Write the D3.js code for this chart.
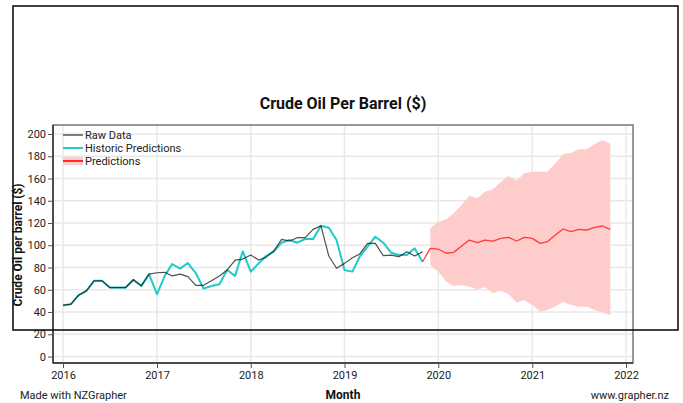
<!DOCTYPE html>
<html><head><meta charset="utf-8">
<script src="https://cdn.jsdelivr.net/npm/d3@7"></script>
<style>body{margin:0;background:#fff}svg{display:block;font-family:Roboto,"Liberation Sans",sans-serif}</style>
</head><body><svg id="c" width="683" height="403"></svg>
<script>
// Monthly series, starting January 2016
const rawStart = "2016-01";
const rawData = [46,47,55,59,68,68,62,62,62,69,63.5,74,75.3,75.7,72.4,74,71.8,64,64,68,72.4,77.7,86.7,87.6,91.2,86.7,89.1,95,105.3,103.8,106.8,106.8,114.3,117.6,90.3,79.3,83.7,88.8,92.1,101.7,101.7,90.6,91.2,89.7,94.2,90.3,94.2];
const histStart = "2016-01";
const historicPredictions = [46,47,55,59,68,68,62,62,62,69,63.5,74,56,73,83,79,84,75,61,63.4,65,77.7,72.5,94.5,76.3,83.7,90.3,94.2,102.3,104.7,102.3,105.6,105.6,117.6,115.8,104.7,77.7,76.3,89.7,98.7,107.7,102.3,93.3,91.2,91.2,97.2,85.2];
const predStart = "2019-11";
const predictions = [85.2,97.2,96.6,92.8,93.6,99.3,104.7,102.3,104.7,103.8,106.2,107.1,103.8,107.1,106.2,101.7,103.2,109.2,114.6,112.2,114.3,113.7,116.1,117.3,114.3];
const bandStart = "2019-12";
const bandUpper = [115.2,121.2,123.3,128.7,136.2,144.5,142.2,148.1,150.3,157.1,162.2,158,164.7,166.1,166.1,166.1,173.7,181.7,183.2,186.2,186.2,191,194.6,191];
const bandLower = [82.2,76.3,67.2,63.4,64.3,62.7,60.4,62.2,56.8,59.1,55.9,48.5,50.8,46.3,40.3,41.8,44.8,49.3,46.3,44.8,44.8,41.8,39.4,37.3];
const yTicks = [0,20,40,60,80,100,120,140,160,180,200];
const xTickYears = ["2016","2017","2018","2019","2020","2021","2022"];
const legendLabels = ["Raw Data","Historic Predictions","Predictions"];
const title = "Crude Oil Per Barrel ($)";
const yLabel = "Crude Oil per barrel ($)";
const xLabel = "Month";

const parseM = d3.timeParse("%Y-%m");
const parseY = d3.timeParse("%Y");
const toSeries = (start, vals) => vals.map((v,i)=>({d:d3.timeMonth.offset(parseM(start), i), v}));

const svg = d3.select("#c");
const L=53, R=633, T=125, B=363;
const x = d3.scaleTime().domain([parseY("2016"), parseY("2022")]).range([63, 626]);
const y = d3.scaleLinear().domain([0,200]).range([356.5,134]);

// gridlines
const g = svg.append("g");
g.selectAll(".gy").data(yTicks).join("line")
  .attr("x1",L).attr("x2",R).attr("y1",d=>y(d)).attr("y2",d=>y(d))
  .attr("stroke","#e8e8e8").attr("stroke-width",1.5);
g.selectAll(".gx").data(xTickYears).join("line")
  .attr("x1",d=>x(parseY(d))).attr("x2",d=>x(parseY(d))).attr("y1",T).attr("y2",B)
  .attr("stroke","#e8e8e8").attr("stroke-width",1.5);

// band
const bu = toSeries(bandStart, bandUpper), bl = toSeries(bandStart, bandLower);
const bandData = bu.map((p,i)=>({d:p.d, hi:p.v, lo:bl[i].v}));
svg.append("path").datum(bandData)
  .attr("d", d3.area().x(p=>x(p.d)).y0(p=>y(p.lo)).y1(p=>y(p.hi)))
  .attr("fill","#ffcccc");

const line = d3.line().x(p=>x(p.d)).y(p=>y(p.v));
svg.append("path").datum(toSeries(histStart, historicPredictions)).attr("d",line)
  .attr("fill","none").attr("stroke","#1fcaca").attr("stroke-width",2).attr("stroke-linejoin","round");
svg.append("path").datum(toSeries(rawStart, rawData)).attr("d",line)
  .attr("fill","none").attr("stroke","rgba(20,20,20,0.75)").attr("stroke-width",1.2).attr("stroke-linejoin","round");
svg.append("path").datum(toSeries(predStart, predictions)).attr("d",line)
  .attr("fill","none").attr("stroke","#ff3b3b").attr("stroke-width",1.3).attr("stroke-linejoin","round");

// frame
svg.append("rect").attr("x",L).attr("y",T).attr("width",R-L).attr("height",B-T)
  .attr("fill","none").attr("stroke","#777").attr("stroke-width",1.5);

// axes
const yAxis = svg.append("g").attr("transform",`translate(${L},0)`)
  .call(d3.axisLeft(y).tickValues(yTicks).tickSize(5).tickPadding(2));
yAxis.select(".domain").attr("d",`M0,${T}V${B}`).attr("stroke","#333").attr("stroke-width",1.5);
const xAxis = svg.append("g").attr("transform",`translate(0,${B})`)
  .call(d3.axisBottom(x).tickValues(xTickYears.map(parseY)).tickFormat(d3.timeFormat("%Y")).tickSize(5).tickPadding(3));
xAxis.select(".domain").attr("d",`M${L},0H${R}`).attr("stroke","#333").attr("stroke-width",1.5);
[yAxis,xAxis].forEach(a=>{
  a.selectAll(".tick line").attr("stroke","#555");
  a.selectAll("text").attr("font-size",11).attr("fill","#222").attr("font-family","Roboto, sans-serif");
});

// legend
const leg = svg.append("g").attr("transform","translate(63,135)");
const legColors = ["#555","#1fcaca","#ff2a2a"];
legendLabels.forEach((t,i)=>{
  const r = leg.append("g").attr("transform",`translate(0,${i*13})`);
  if(i===2) r.append("rect").attr("x",0).attr("y",-4).attr("width",20).attr("height",8).attr("fill","#ffcccc");
  r.append("line").attr("x1",0).attr("x2",20).attr("y1",0).attr("y2",0)
    .attr("stroke",legColors[i]).attr("stroke-width",i===0?1.5:2);
  r.append("text").attr("x",22).attr("y",4).attr("font-size",11).attr("fill","#222").text(t);
});

// texts
svg.append("text").attr("x",343).attr("y",109).attr("text-anchor","middle")
  .attr("font-size",16).attr("font-weight","bold").attr("fill","#111").text(title);
svg.append("text").attr("transform","translate(22,245) rotate(-90)").attr("text-anchor","middle")
  .attr("font-size",12).attr("font-weight","bold").attr("fill","#111").text(yLabel);
svg.append("text").attr("x",343).attr("y",399).attr("text-anchor","middle")
  .attr("font-size",12).attr("font-weight","bold").attr("fill","#111").text(xLabel);
svg.append("text").attr("x",20).attr("y",399).attr("font-size",11).attr("fill","#222").text("Made with NZGrapher");
svg.append("text").attr("x",669).attr("y",399).attr("text-anchor","end").attr("font-size",11).attr("fill","#222").text("www.grapher.nz");

// overlay rectangle
svg.append("rect").attr("x",13).attr("y",6).attr("width",665).attr("height",324)
  .attr("fill","none").attr("stroke","#111").attr("stroke-width",1.6);
</script></body></html>
